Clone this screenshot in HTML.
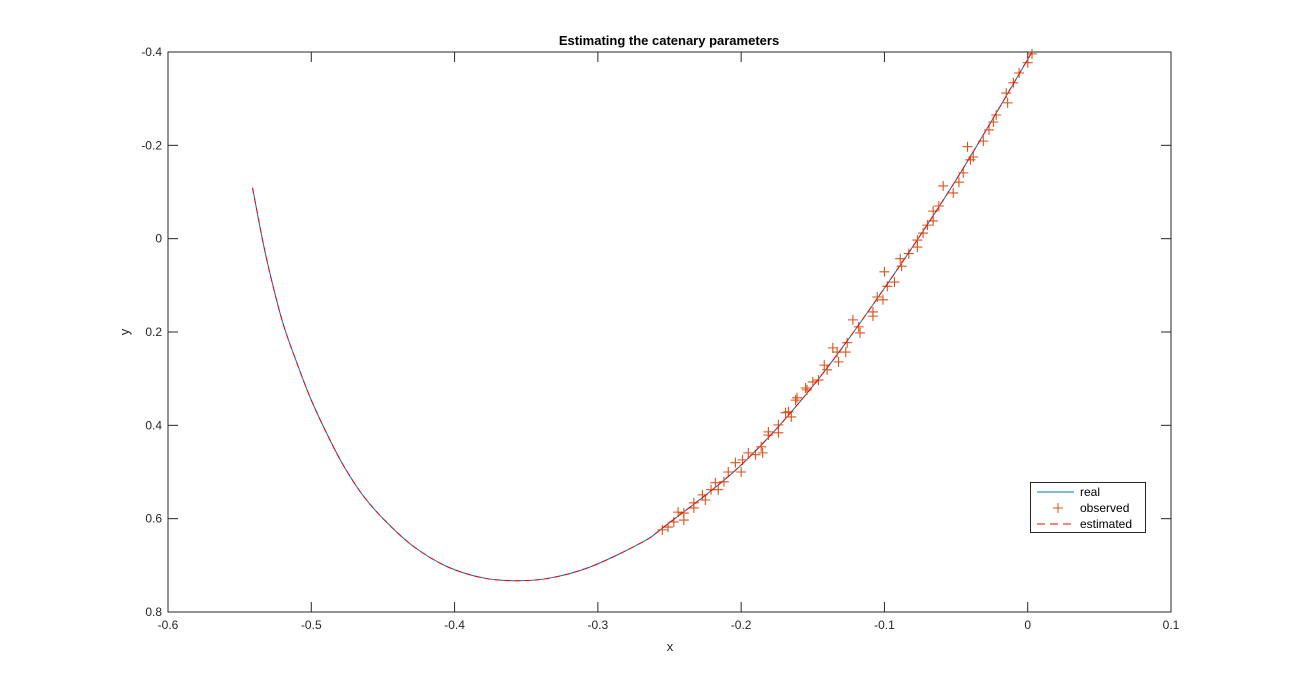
<!DOCTYPE html>
<html><head><meta charset="utf-8"><style>
body{margin:0;background:#fff}
svg{display:block;font-family:"Liberation Sans","DejaVu Sans",sans-serif}
</style></head><body>
<svg id="chart" width="1295" height="689">
<rect x="0" y="0" width="1295" height="689" fill="#fff"/>
<g id="plot"></g>
</svg>
<script>
const curveX=[-0.541,-0.533,-0.526,-0.519,-0.509,-0.500,-0.488,-0.477,-0.463,-0.447,-0.428,-0.405,-0.380,-0.356,-0.333,-0.305,-0.270,-0.254,-0.200,-0.150,-0.100,-0.050,0.003];
const curveY=[-0.109,0.018,0.110,0.189,0.275,0.346,0.425,0.489,0.554,0.609,0.661,0.703,0.727,0.733,0.727,0.703,0.652,0.618,0.485,0.316,0.106,-0.126,-0.400];
const obsX=[-0.255,-0.251,-0.247,-0.244,-0.240,-0.240,-0.233,-0.233,-0.227,-0.225,-0.221,-0.218,-0.216,-0.212,-0.209,-0.204,-0.200,-0.199,-0.195,-0.190,-0.186,-0.185,-0.181,-0.181,-0.174,-0.174,-0.169,-0.167,-0.165,-0.162,-0.161,-0.155,-0.154,-0.150,-0.146,-0.142,-0.140,-0.136,-0.133,-0.132,-0.127,-0.126,-0.122,-0.118,-0.117,-0.108,-0.101,-0.108,-0.105,-0.098,-0.093,-0.100,-0.088,-0.089,-0.083,-0.077,-0.077,-0.073,-0.070,-0.066,-0.066,-0.062,-0.052,-0.059,-0.048,-0.045,-0.040,-0.038,-0.042,-0.031,-0.027,-0.024,-0.022,-0.014,-0.015,-0.010,-0.006,0.000,0.003];
const obsY=[0.624,0.618,0.607,0.586,0.588,0.603,0.566,0.577,0.549,0.560,0.538,0.523,0.538,0.521,0.500,0.480,0.500,0.474,0.459,0.463,0.446,0.459,0.414,0.421,0.399,0.416,0.373,0.371,0.382,0.346,0.341,0.320,0.324,0.307,0.303,0.271,0.281,0.234,0.243,0.264,0.243,0.223,0.174,0.189,0.202,0.157,0.131,0.166,0.125,0.102,0.093,0.071,0.059,0.043,0.032,0.018,0.003,-0.012,-0.029,-0.038,-0.059,-0.070,-0.098,-0.113,-0.121,-0.141,-0.169,-0.175,-0.197,-0.209,-0.233,-0.250,-0.265,-0.291,-0.312,-0.334,-0.355,-0.377,-0.396];
const xTicks=[-0.6,-0.5,-0.4,-0.3,-0.2,-0.1,0,0.1];
const xTickLabels=["-0.6","-0.5","-0.4","-0.3","-0.2","-0.1","0","0.1"];
const yTicks=[-0.4,-0.2,0,0.2,0.4,0.6,0.8];
const yTickLabels=["-0.4","-0.2","0","0.2","0.4","0.6","0.8"];

const L=168,R=1171,T=52,B=612;
const sx=v=>L+(v+0.6)/0.7*(R-L);
const sy=v=>T+(v+0.4)/1.2*(B-T);
const NS="http://www.w3.org/2000/svg";
const g=document.getElementById('plot');
function mk(tag,attrs,parent){const e=document.createElementNS(NS,tag);for(const k in attrs)e.setAttribute(k,attrs[k]);(parent||g).appendChild(e);return e;}

// smooth path through points (Catmull-Rom)
function smoothPath(xs,ys){
  const p=xs.map((x,i)=>[sx(x),sy(ys[i])]);
  let d=`M${p[0][0]},${p[0][1]}`;
  for(let i=0;i<p.length-1;i++){
    const p0=p[Math.max(0,i-1)],p1=p[i],p2=p[i+1],p3=p[Math.min(p.length-1,i+2)];
    const c1=[p1[0]+(p2[0]-p0[0])/6,p1[1]+(p2[1]-p0[1])/6];
    const c2=[p2[0]-(p3[0]-p1[0])/6,p2[1]-(p3[1]-p1[1])/6];
    d+=` C${c1[0]},${c1[1]} ${c2[0]},${c2[1]} ${p2[0]},${p2[1]}`;
  }
  return d;
}

// axes box
const box=mk('rect',{x:L,y:T,width:R-L,height:B-T,fill:'none',stroke:'#262626','stroke-width':1});



xTicks.forEach((v,i)=>{
  const x=sx(v);
  const t1=mk('line',{x1:x,y1:B,x2:x,y2:B-10,stroke:'#262626'});
  
  
  const t2=mk('line',{x1:x,y1:T,x2:x,y2:T+10,stroke:'#262626'});
  
  
  const tx=mk('text',{x:x,y:B+17,'text-anchor':'middle','font-size':12,fill:'#262626'});
  tx.textContent=xTickLabels[i];
  
  
});
yTicks.forEach((v,i)=>{
  const y=sy(v);
  const t1=mk('line',{x1:L,y1:y,x2:L+10,y2:y,stroke:'#262626'});
  
  
  const t2=mk('line',{x1:R,y1:y,x2:R-10,y2:y,stroke:'#262626'});
  
  
  const tx=mk('text',{x:L-6,y:y+4,'text-anchor':'end','font-size':12,fill:'#262626'});
  tx.textContent=yTickLabels[i];
  
  
});

// real curve
const real=mk('path',{d:smoothPath(curveX,curveY),fill:'none',stroke:'#0072BD','stroke-width':1});



// observed markers
obsX.forEach((v,i)=>{
  const x=sx(v),y=sy(obsY[i]);
  const m=mk('path',{d:`M${x-5},${y}H${x+5}M${x},${y-5}V${y+5}`,stroke:'#D95319','stroke-width':1.1});
  
  
});

// estimated curve
const est=mk('path',{d:smoothPath(curveX,curveY),fill:'none',stroke:'#FF0000','stroke-width':1,'stroke-dasharray':'6,4'});



// title & labels
const title=mk('text',{x:669,y:45,'text-anchor':'middle','font-size':13,'font-weight':'bold',fill:'#000'});
title.textContent='Estimating the catenary parameters';


const xl=mk('text',{x:670,y:651,'text-anchor':'middle','font-size':13,fill:'#262626'});
xl.textContent='x';


const yl=mk('text',{x:0,y:0,'text-anchor':'middle','font-size':13,fill:'#262626',transform:'translate(129,332) rotate(-90)'});
yl.textContent='y';



// legend
const lg=mk('g',{});


mk('rect',{x:1030.5,y:482.5,width:115,height:50,fill:'#fff',stroke:'#262626'},lg);
const e1=mk('line',{x1:1037,y1:492,x2:1074,y2:492,stroke:'#0072BD'},lg);


const m=mk('path',{d:'M1053,508H1063M1058,503V513',stroke:'#D95319'},lg);


const e3=mk('line',{x1:1037,y1:524,x2:1074,y2:524,stroke:'#FF0000','stroke-dasharray':'8,5'},lg);


[['real',496],['observed',512],['estimated',528]].forEach(([s,y])=>{
  const t=mk('text',{x:1080,y:y,'font-size':12,fill:'#000'},lg);
  t.textContent=s;
  
  
});
</script>
</body></html>
